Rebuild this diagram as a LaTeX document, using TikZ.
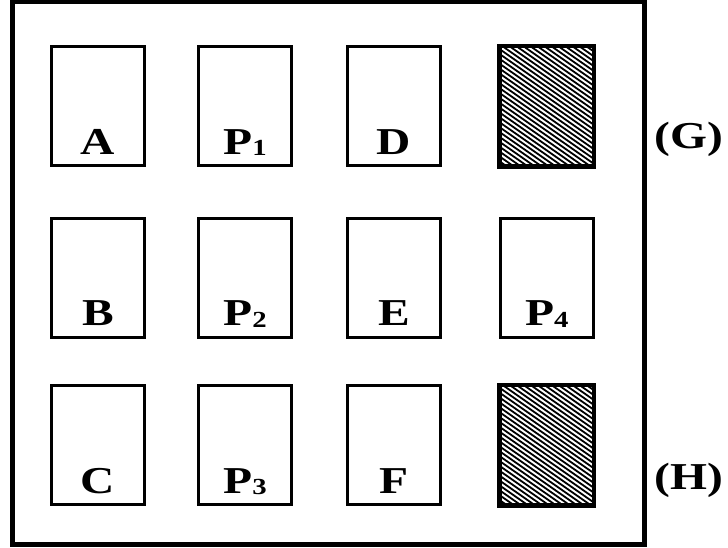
\documentclass[tikz,border=0pt]{standalone}
\usepackage{graphicx}
\usepackage{fontspec}
\setmainfont{Liberation Serif}
\newcommand{\wlbl}[1]{\scalebox{1.25}[1]{#1}}
\newcommand{\subd}[1]{\raisebox{-1.5pt}{\fontsize{23}{24}\selectfont #1}}
\begin{document}
\begin{tikzpicture}[x=1pt,y=-1pt,
  box/.style={draw, line width=3pt, minimum width=93pt, minimum height=119pt, inner sep=0pt},
  lab/.style={font=\bfseries\fontsize{38}{40}\selectfont, anchor=base, inner sep=0pt},
  hatchline/.style={line width=1.8pt}]
\useasboundingbox (0,0) rectangle (728,548);
\node[draw, line width=5pt, minimum width=632pt, minimum height=542.5pt, inner sep=0pt] (frame) at (328,273.25) {};
% row 1
\node[box] (a)  at (97.9,106.5) {};
\node[box] (p1) at (245,106.5) {};
\node[box] (d)  at (394,106.5) {};
\node[box] (h1) at (546.8,106.5) {};
% row 2
\node[box] (b)  at (97.9,277.7) {};
\node[box] (p2) at (245,277.7) {};
\node[box] (e)  at (394,277.7) {};
\node[box] (p4) at (546.8,277.7) {};
% row 3
\node[box] (c)  at (97.9,445.2) {};
\node[box] (p3) at (245,445.2) {};
\node[box] (f)  at (394,445.2) {};
\node[box] (h2) at (546.8,445.2) {};
% hatching
\foreach \hb in {h1,h2}{
  \begin{scope}
    \clip (\hb.north west) rectangle (\hb.south east);
    \begin{scope}[shift={(\hb.center)}]
      \foreach \k in {-45,...,45}{
        \draw[hatchline] ({\k*4.0*(-0.5736)-123},{\k*4.0*0.8192-86}) -- ++(246,172);
      }
    \end{scope}
  \end{scope}
  \draw[line width=3pt] (\hb.north west) rectangle (\hb.south east);
}
% labels
\node[lab] (la)  at ([yshift=13pt]a.south)  {\wlbl{A}};
\node[lab] (lp1) at ([yshift=13pt]p1.south) {\wlbl{P\subd{1}}};
\node[lab] (ld)  at ([yshift=13pt]d.south)  {\wlbl{D}};
\node[lab] (lb)  at ([yshift=13pt]b.south)  {\wlbl{B}};
\node[lab] (lp2) at ([yshift=13pt]p2.south) {\wlbl{P\subd{2}}};
\node[lab] (le)  at ([yshift=13pt]e.south)  {\wlbl{E}};
\node[lab] (lp4) at ([yshift=13pt]p4.south) {\wlbl{P\subd{4}}};
\node[lab] (lc)  at ([yshift=13pt]c.south)  {\wlbl{C}};
\node[lab] (lp3) at ([yshift=13pt]p3.south) {\wlbl{P\subd{3}}};
\node[lab] (lf)  at ([yshift=13pt]f.south)  {\wlbl{F}};
\node[lab] (g) at (689,149) {\wlbl{(G)}};
\node[lab] (h) at (689,489) {\wlbl{(H)}};
\end{tikzpicture}
\end{document}
